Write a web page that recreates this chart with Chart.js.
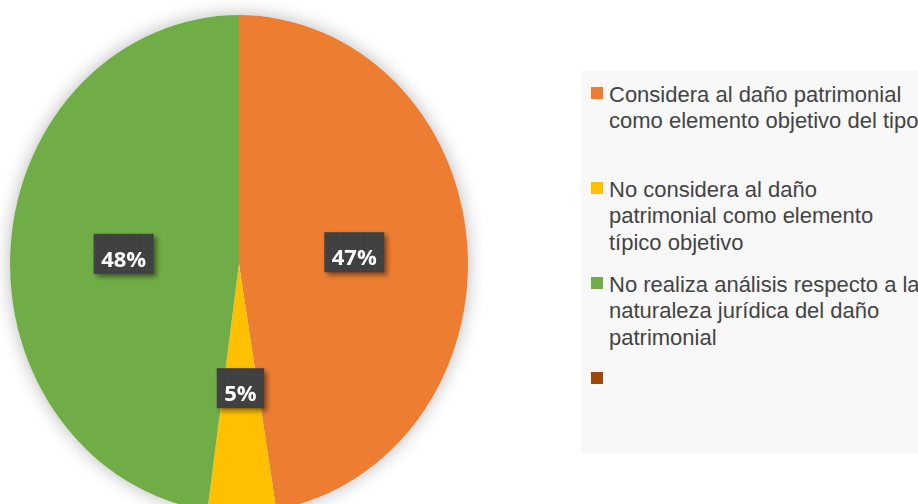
<!DOCTYPE html>
<html>
<head>
<meta charset="utf-8">
<script src="https://cdn.jsdelivr.net/npm/chart.js@4.4.1/dist/chart.umd.min.js"></script>
<style>
    html, body { margin: 0; padding: 0; background: #ffffff; }
    #wrap { position: relative; width: 918px; height: 504px; overflow: hidden; }
    #pie { position: absolute; left: 0; top: 0; }
    #legend {
        position: absolute; left: 581px; top: 71px; width: 337px; height: 382px;
        background: #f8f8f8; overflow: hidden;
        font-family: "Liberation Sans", Arial, sans-serif; font-size: 22px; color: #444444;
    }
    .item { position: absolute; left: 10px; white-space: nowrap; line-height: 26.7px; }
    .item .box { position: absolute; left: 0; top: 5.5px; width: 12px; height: 12px; }
    .item .txt { position: absolute; left: 18px; top: 0; }
</style>
</head>
<body>
<div id="wrap">
    <canvas id="pie" width="918" height="504"></canvas>
    <div id="legend"></div>
</div>
<script>
// categories (legend lines as shown), values in percent, slice colours
const categories = [
    ['Considera al daño patrimonial', 'como elemento objetivo del tipo'],
    ['No considera al daño', 'patrimonial como elemento', 'típico objetivo'],
    ['No realiza análisis respecto a la', 'naturaleza jurídica del daño', 'patrimonial'],
    ['']
];
const shares = [47.4, 4.8, 47.8, 0];
const sliceColors = ['#ED7D31', '#FFC000', '#70AD47', '#9E480E'];

// the original pie is a bit taller than wide
const stretchY = 1.087;

// small dotted fill used by the data label boxes
function makeDotPattern(ctx) {
    const c = document.createElement('canvas');
    c.width = 7; c.height = 7;
    const p = c.getContext('2d');
    p.fillStyle = '#404040';
    p.fillRect(0, 0, 7, 7);
    p.fillStyle = '#4c4c4c';
    p.fillRect(3, 3, 1.5, 1.5);
    return ctx.createPattern(c, 'repeat');
}

const ovalPie = {
    id: 'ovalPie',
    beforeDatasetsDraw(chart) {
        const ctx = chart.ctx;
        const arc = chart.getDatasetMeta(0).data[0];
        const { x, y, outerRadius } = arc.getProps(['x', 'y', 'outerRadius'], true);
        // soft halo behind the pie
        ctx.save();
        ctx.shadowColor = 'rgba(0,0,0,0.28)';
        ctx.shadowBlur = 18;
        ctx.fillStyle = '#ffffff';
        ctx.beginPath();
        ctx.ellipse(x, y, outerRadius, outerRadius * stretchY, 0, 0, Math.PI * 2);
        ctx.fill();
        ctx.restore();

        ctx.save();
        ctx.translate(x, y);
        ctx.scale(1, stretchY);
        ctx.translate(-x, -y);
    },
    afterDatasetsDraw(chart) {
        const ctx = chart.ctx;
        ctx.restore();

        const meta = chart.getDatasetMeta(0);
        const values = chart.data.datasets[0].data;
        const pattern = makeDotPattern(ctx);
        ctx.save();
        ctx.font = 'bold 22px "Open Sans", "DejaVu Sans", sans-serif';
        meta.data.forEach((arc, i) => {
            if (!values[i]) return;
            const p = arc.getProps(['x', 'y', 'startAngle', 'endAngle', 'outerRadius'], true);
            const mid = (p.startAngle + p.endAngle) / 2;
            const r = p.outerRadius * 0.505;
            const cx = p.x + Math.cos(mid) * r;
            const cy = p.y + Math.sin(mid) * r * stretchY - 1.5;
            const text = Math.round(values[i]) + '%';
            const w = ctx.measureText(text).width + 15;
            const h = 40;

            ctx.save();
            ctx.shadowColor = 'rgba(0,0,0,0.45)';
            ctx.shadowBlur = 5;
            ctx.shadowOffsetX = 3;
            ctx.shadowOffsetY = 3;
            ctx.fillStyle = pattern;
            ctx.fillRect(cx - w / 2, cy - h / 2, w, h);
            ctx.restore();

            ctx.fillStyle = '#ffffff';
            ctx.textAlign = 'center';
            ctx.textBaseline = 'alphabetic';
            ctx.fillText(text, cx, cy + 13);
        });
        ctx.restore();
    }
};

const pieChart = new Chart(document.getElementById('pie'), {
    type: 'pie',
    data: {
        labels: categories,
        datasets: [{
            data: shares,
            backgroundColor: sliceColors,
            borderWidth: 0,
            clip: false
        }]
    },
    options: {
        responsive: false,
        animation: false,
        layout: { padding: { left: 10, right: 450, top: 35, bottom: 11 } },
        plugins: {
            legend: { display: false },
            tooltip: { enabled: false }
        }
    },
    plugins: [ovalPie]
});

// Legend built from the chart's own labels and colours, equal slots like the original
const legendEl = document.getElementById('legend');
pieChart.data.labels.forEach((lines, i) => {
    const item = document.createElement('div');
    item.className = 'item';
    item.style.top = (10.6 + i * 95) + 'px';
    item.innerHTML = `<div class="box" style="background:${sliceColors[i]}"></div>
        <div class="txt">${lines.map(l => `<div>${l || '&nbsp;'}</div>`).join('')}</div>`;
    legendEl.appendChild(item);
});
</script>
</body>
</html>
